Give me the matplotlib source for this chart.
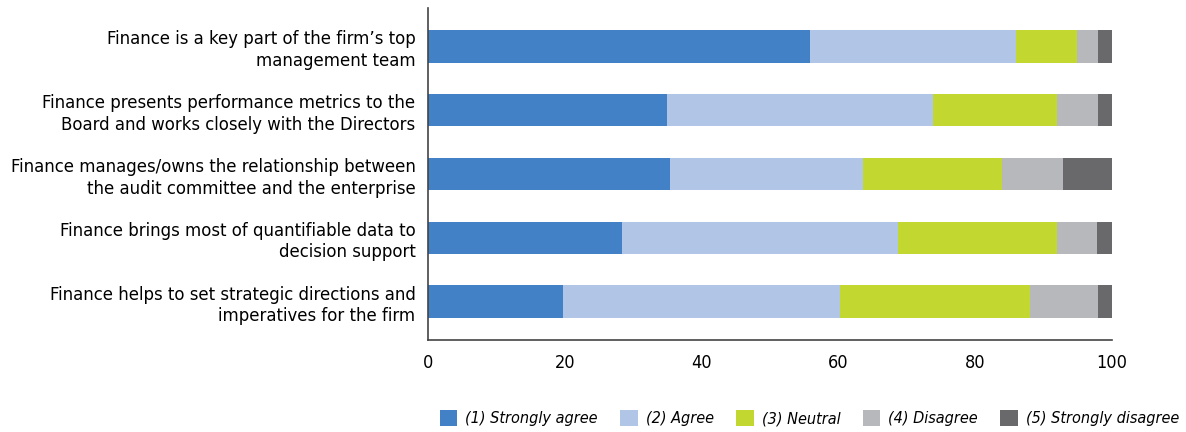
import numpy as np
from matplotlib import pyplot as plt

categories = [
    "Finance is a key part of the firm\u2019s top\nmanagement team",
    "Finance presents performance metrics to the\nBoard and works closely with the Directors",
    "Finance manages/owns the relationship between\nthe audit committee and the enterprise",
    "Finance brings most of quantifiable data to\ndecision support",
    "Finance helps to set strategic directions and\nimperatives for the firm",
]
series_names = ["(1) Strongly agree", "(2) Agree", "(3) Neutral", "(4) Disagree", "(5) Strongly disagree"]
strongly_agree = [55.9, 34.9, 35.4, 28.4, 19.7]
agree = [30.1, 38.9, 28.2, 40.3, 40.5]
neutral = [8.9, 18.2, 20.3, 23.3, 27.8]
disagree = [3.1, 6.0, 8.9, 5.8, 10.0]
strongly_disagree = [2.0, 2.0, 7.2, 2.2, 2.0]
x_ticks = [0, 20, 40, 60, 80, 100]

colors = ["#4281C5", "#B1C5E7", "#C2D72F", "#B7B8BB", "#69696B"]

plt.rcParams["font.family"] = ["DejaVu Sans"]
plt.rcParams["font.stretch"] = "condensed"

fig = plt.figure(figsize=(11.86, 4.32), dpi=100)
ax = fig.add_axes([428 / 1186, 92 / 432, 684 / 1186, 332 / 432])

y = np.arange(len(categories))
left = np.zeros(len(categories))
for name, vals, col in zip(series_names,
                           [strongly_agree, agree, neutral, disagree, strongly_disagree],
                           colors):
    ax.barh(y, vals, left=left, height=0.51, color=col, label=name)
    left += np.array(vals)

ax.set_ylim(len(categories) - 0.4, -0.6)
ax.set_xlim(0, 100)
ax.set_xticks(x_ticks)
ax.set_yticks(y)
ax.set_yticklabels(categories, fontsize=13.2, linespacing=1.25)
ax.tick_params(axis="x", labelsize=13, length=0, pad=10)
ax.tick_params(axis="y", length=0, pad=9)
for s in ["top", "right"]:
    ax.spines[s].set_visible(False)
for s in ["left", "bottom"]:
    ax.spines[s].set_color("#444444")
    ax.spines[s].set_linewidth(1.2)

fig.legend(loc="lower left", bbox_to_anchor=(425 / 1186, -0.02), ncol=5, frameon=False,
           prop={"size": 11.6, "style": "italic", "stretch": "condensed"},
           handlelength=1.1, handleheight=1.15, handletextpad=0.5, columnspacing=1.38)

fig.savefig("out.png", dpi=100)
